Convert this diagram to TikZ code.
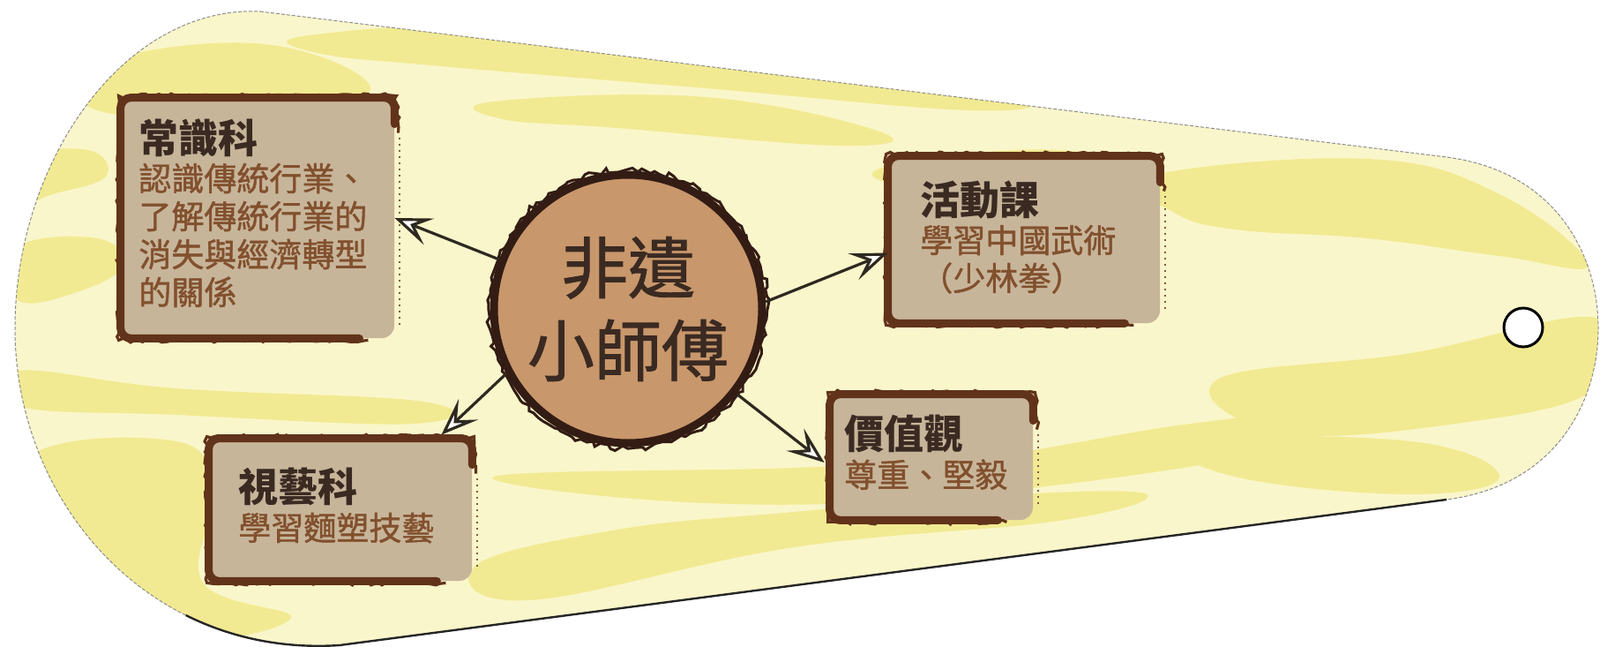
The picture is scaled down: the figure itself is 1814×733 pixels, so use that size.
\documentclass[tikz,border=0pt]{standalone}
\usepackage{fontspec}
\newfontfamily\cjk{Noto Sans CJK TC}
\newfontfamily\cjkm[FakeBold=1.2]{Noto Sans CJK TC}
\usetikzlibrary{arrows.meta,calc,decorations.pathmorphing}

\definecolor{cream}{HTML}{FAF6CB}
\definecolor{ylw}{HTML}{F2EA92}
\definecolor{boxfill}{HTML}{C7B59A}
\definecolor{boxedge}{HTML}{61331A}
\definecolor{titlecol}{HTML}{3A2A22}
\definecolor{bodycol}{HTML}{82502D}
\definecolor{circfill}{HTML}{C8976B}
\definecolor{circedge}{HTML}{331C14}
\definecolor{arrowcol}{HTML}{2E2920}

\def\bgpath{(295,13) -- (1640,178) .. controls (1765,194) and (1812,290) .. (1812,372) .. controls (1812,454) and (1765,550) .. (1640,566) -- (385,731) .. controls (170,745) and (17,570) .. (17,372) .. controls (17,184) and (140,6) .. (295,13) -- cycle}

\begin{document}
\begin{tikzpicture}[x=0.5pt,y=-0.5pt,
  boxbg/.style={fill=boxfill, rounded corners=7pt, inner sep=0pt},
  boxline/.style={draw=boxedge, line width=4.5pt, rounded corners=6pt, line cap=round, line join=round},
  boxrough/.style={draw=boxedge, line width=1.6pt, decorate, decoration={random steps, segment length=3pt, amplitude=1.3pt}},
  boxdots/.style={draw=boxedge!80, line width=1pt, dash pattern=on 1pt off 2.5pt},
  boxtext/.style={anchor=north west, inner sep=0pt, align=left, text=bodycol, font=\cjkm\fontsize{18.5pt}{21.5pt}\selectfont},
  arr/.style={draw=arrowcol, line width=1.6pt, -{Stealth[length=21pt,width=16pt,inset=9pt,fill=white]}},
  blob/.style={fill=ylw},
]
\useasboundingbox (0,0) rectangle (1814,733);

% background shape
\fill[cream] \bgpath;
\begin{scope}
\clip \bgpath;
\fill[blob] plot[smooth cycle, tension=0.7] coordinates {(350,40) (600,30) (900,70) (1150,110) (1100,125) (800,100) (500,75) (360,60)};
\fill[blob] plot[smooth cycle, tension=0.7] coordinates {(560,115) (800,110) (1000,150) (950,165) (700,145) (570,135)};
\fill[blob] plot[smooth cycle, tension=0.7] coordinates {(120,70) (300,50) (420,100) (300,130) (110,125)};
\fill[blob] plot[smooth cycle, tension=0.7] coordinates {(20,180) (100,170) (120,200) (60,220) (20,230)};
\fill[blob] plot[smooth cycle, tension=0.7] coordinates {(20,280) (110,270) (140,300) (90,330) (20,340)};
\fill[blob] plot[smooth cycle, tension=0.7] coordinates {(20,420) (200,440) (480,455) (470,480) (200,470) (20,460)};
\fill[blob] plot[smooth cycle, tension=0.7] coordinates {(30,520) (200,500) (240,560) (230,660) (330,700) (200,720) (60,640)};
\fill[blob] plot[smooth cycle, tension=0.7] coordinates {(540,640) (700,600) (900,580) (1150,560) (1300,560) (1200,590) (900,620) (600,680)};
\fill[blob] plot[smooth cycle, tension=0.7] coordinates {(560,540) (900,530) (1100,520) (1350,480) (1500,470) (1450,510) (1100,560) (800,570)};
\fill[blob] plot[smooth cycle, tension=0.7] coordinates {(1300,200) (1550,180) (1700,220) (1800,300) (1700,290) (1550,270) (1400,260) (1330,240)};
\fill[blob] plot[smooth cycle, tension=0.7] coordinates {(1380,430) (1600,400) (1810,360) (1810,440) (1650,480) (1450,490)};
\fill[blob] plot[smooth cycle, tension=0.7] coordinates {(1350,500) (1600,500) (1700,540) (1600,560) (1400,540)};
\fill[blob] plot[smooth cycle, tension=0.7] coordinates {(1000,190) (1200,170) (1350,210) (1250,220) (1050,215)};
\end{scope}
\draw[black!45, line width=0.5pt, dash pattern=on 2pt off 1pt] \bgpath;
\draw[black!85, line width=1.2pt] (1640,566) -- (385,731) .. controls (320.5,735.2) and (261.6,722.4) .. (210.7,697);

% hole
\node[circle, draw=black, line width=1.5pt, fill=white, minimum size=22pt, inner sep=0pt] (hole) at (1727,371) {};

% boxes
\node[boxbg, minimum width=155pt, minimum height=136pt] (b1) at (292,247) {};
\node[boxbg, minimum width=154pt, minimum height=94.5pt] (b2) at (1161,271.5) {};
\node[boxbg, minimum width=115pt, minimum height=71pt] (b3) at (1056,518) {};
\node[boxbg, minimum width=149pt, minimum height=80.5pt] (b4) at (386,577.5) {};

\foreach \b in {b1,b2,b3,b4}{
  \draw[boxline] ($(\b.south east)+(-40,0)$) -- (\b.south west) -- (\b.north west) -- (\b.north east) -- ($(\b.north east)+(0,30)$);
  \draw[boxrough] ($(\b.south east)+(-30,2)$) -- ($(\b.south west)+(-2,2)$) -- ($(\b.north west)+(-2,-2)$) -- ($(\b.north east)+(2,-2)$) -- ($(\b.north east)+(4,40)$);
  \draw[boxdots] ($(\b.north east)+(6,45)$) -- ($(\b.south east)+(6,-15)$);
}

% texts
\node[boxtext] (t1) at (157,134) {{\cjk\fontsize{22.5pt}{21.5pt}\selectfont\bfseries\color{titlecol}常識科}\\認識傳統行業、\\了解傳統行業的\\消失與經濟轉型\\的關係};
\node[boxtext] (t2) at (1043,204) {{\cjk\fontsize{22.5pt}{21.5pt}\selectfont\bfseries\color{titlecol}活動課}\\學習中國武術\\（少林拳）};
\node[boxtext] (t3) at (957,470) {{\cjk\fontsize{22.5pt}{21.5pt}\selectfont\bfseries\color{titlecol}價值觀}\\尊重、堅毅};
\node[boxtext] (t4) at (270,530) {{\cjk\fontsize{22.5pt}{21.5pt}\selectfont\bfseries\color{titlecol}視藝科}\\學習麵塑技藝};

% centre
\node[circle, fill=circfill, draw=circedge, line width=4.5pt, minimum size=152pt, inner sep=0pt, align=center, text=titlecol, font=\cjkm\fontsize{38pt}{47pt}\selectfont] (circ) at (712,350) {非遺\\小師傅};
\draw[circedge, line width=1.5pt, decorate, decoration={random steps, segment length=3pt, amplitude=1.5pt}] (circ.center) circle[radius=158];

% arrows
\draw[arr] (circ.159) -- (b1.east);
\draw[arr] (circ.3) -- ($(b2.west)+(0,15)$);
\draw[arr] (circ.-38) -- ($(b3.west)+(-6,6)$);
\draw[arr] (circ.208) -- ($(b4.north east)+(-35,-4)$);
\end{tikzpicture}
\end{document}
